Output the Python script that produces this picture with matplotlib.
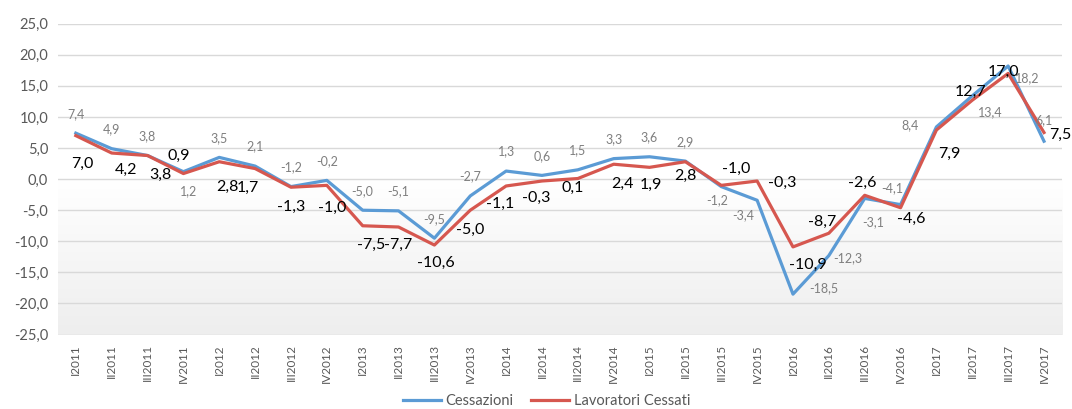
import numpy as np
import matplotlib
matplotlib.use("Agg")
from matplotlib import pyplot as plt
from matplotlib.colors import LinearSegmentedColormap

plt.rcParams['font.family'] = ['Lato', 'DejaVu Sans']

quarters = ["I2011", "II2011", "III2011", "IV2011", "I2012", "II2012", "III2012", "IV2012",
            "I2013", "II2013", "III2013", "IV2013", "I2014", "II2014", "III2014", "IV2014",
            "I2015", "II2015", "III2015", "IV2015", "I2016", "II2016", "III2016", "IV2016",
            "I2017", "II2017", "III2017", "IV2017"]
cessazioni = [7.4, 4.9, 3.8, 1.2, 3.5, 2.1, -1.2, -0.2, -5.0, -5.1, -9.5, -2.7, 1.3, 0.6,
              1.5, 3.3, 3.6, 2.9, -1.2, -3.4, -18.5, -12.3, -3.1, -4.1, 8.4, 13.4, 18.2, 6.1]
lavoratori = [7.0, 4.2, 3.8, 0.9, 2.8, 1.7, -1.3, -1.0, -7.5, -7.7, -10.6, -5.0, -1.1, -0.3,
              0.1, 2.4, 1.9, 2.8, -1.0, -0.3, -10.9, -8.7, -2.6, -4.6, 7.9, 12.7, 17.0, 7.5]

# label offsets (points) relative to each data point
off_blue = [(0, 14)] * 3 + [(4, -14)] + [(0, 14)] * 14 + [
    (-3, -10), (-10, -11), (22, 4), (14, -2), (6, -17), (-6, 12),
    (-19, 1), (13, -12), (14, -9), (0, 15)]
off_red = [(5, -20), (10, -12), (9, -14), (-3, 13), (6, -18), (-5, -14), (0, -14), (4, -16),
           (6, -14), (0, -13), (1, -13), (0, -14), (-4, -13), (-4, -12), (-4, -7), (6, -14),
           (1, -13), (0, -10), (11, 12), (18, -1), (11, -13), (-5, 8), (-2, 9), (8, -8),
           (9, -17), (-1, 6), (-3, 1), (12, -2)]

blue = "#5B9BD5"
red = "#D6574F"
gray = "#595959"

fig = plt.figure(figsize=(10.72, 4.09), dpi=100)
ax = fig.add_axes([0.054, 0.182, 0.9366, 0.760])

x = np.arange(len(quarters))
ax.set_xlim(-0.5, len(quarters) - 0.5)
ax.set_ylim(-25, 25)

# soft background gradient, white at top to light gray at bottom
cmap = LinearSegmentedColormap.from_list("bg", ["#ffffff", "#ffffff", "#eeeeee"])
grad = np.linspace(0, 1, 256).reshape(-1, 1)
ax.imshow(grad, aspect="auto", cmap=cmap, extent=(-0.5, len(quarters) - 0.5, -25, 25),
          zorder=0, origin="upper")

yt = np.arange(-25, 26, 5)
ax.set_yticks(yt)
ax.set_yticklabels([f"{v:.1f}".replace(".", ",") for v in yt], color=gray, fontsize=10.5)
ax.set_xticks(x)
ax.set_xticklabels(quarters, rotation=90, color=gray, fontsize=8.5)
ax.tick_params(length=0, pad=7)
ax.tick_params(axis="y", pad=7)
ax.grid(axis="y", color="#d9d9d9", linewidth=1)
ax.set_axisbelow(True)
for s in ax.spines.values():
    s.set_visible(False)

ax.plot(x, cessazioni, color=blue, linewidth=2.3, label="Cessazioni", zorder=3)
ax.plot(x, lavoratori, color=red, linewidth=2.3, label="Lavoratori Cessati", zorder=3)

for i in range(len(quarters)):
    ax.annotate(f"{cessazioni[i]:.1f}".replace(".", ","), (x[i], cessazioni[i]),
                textcoords="offset points", xytext=off_blue[i], ha="center", va="center",
                fontsize=9, color="#7f7f7f", zorder=4)
    ax.annotate(f"{lavoratori[i]:.1f}".replace(".", ","), (x[i], lavoratori[i]),
                textcoords="offset points", xytext=off_red[i], ha="center", va="center",
                fontsize=11.5, color="black", zorder=4)

leg = fig.legend(loc="lower center", bbox_to_anchor=(0.51, -0.03), ncol=2, frameon=False,
                 fontsize=10.5, handlelength=2.6, columnspacing=1.2, handletextpad=0.3)
for t in leg.get_texts():
    t.set_color(gray)

plt.savefig("out.png", dpi=100)
